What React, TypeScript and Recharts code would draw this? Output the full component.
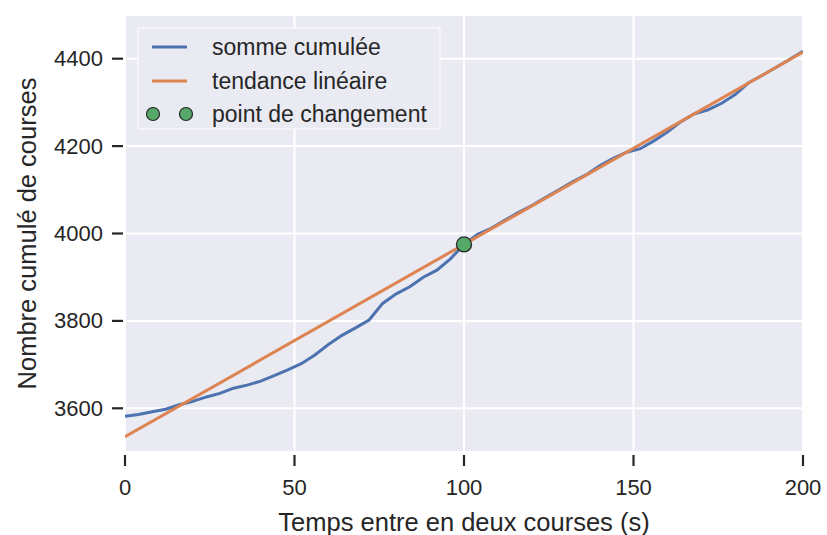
import React from 'react';
import {
  ComposedChart,
  Line,
  Scatter,
  XAxis,
  YAxis,
  CartesianGrid,
  Legend,
} from 'recharts';

// temps (s) et nombre cumulé de courses
const timeS = [
  0, 4, 8, 12, 16, 20, 24, 28, 32, 36, 40, 44, 48, 52, 56, 60, 64, 68, 72, 76,
  80, 84, 88, 92, 96, 100, 104, 108, 112, 116, 120, 124, 128, 132, 136, 140,
  144, 148, 152, 156, 160, 164, 168, 172, 176, 180, 184, 188, 192, 196, 200,
];
const cumulativeCount = [
  3582, 3586, 3592, 3598, 3608, 3616, 3626, 3634, 3646, 3653, 3662, 3675, 3688,
  3702, 3722, 3746, 3767, 3784, 3802, 3840, 3862, 3878, 3900, 3916, 3942, 3975,
  3998, 4012, 4030, 4048, 4064, 4082, 4100, 4118, 4134, 4155, 4172, 4186, 4194,
  4212, 4232, 4256, 4274, 4283, 4298, 4318, 4345, 4362, 4380, 4398, 4417,
];

// tendance linéaire (extrémités)
const trendTime = [0, 200];
const trendCount = [3535, 4415];

// point de changement
const changeTime = [100];
const changeCount = [3975];

const xTicks = [0, 50, 100, 150, 200];
const yTicks = [3600, 3800, 4000, 4200, 4400];

const seriesNames = ['somme cumulée', 'tendance linéaire', 'point de changement'];

const BLUE = '#4C72B0';
const ORANGE = '#DD8452';
const GREEN = '#55A868';
const TEXT = '#262626';
const FONT = '"Liberation Sans", Arial, sans-serif';

const cumData = timeS.map((x, i) => ({ x, y: cumulativeCount[i] }));
const trendData = trendTime.map((x, i) => ({ x, y: trendCount[i] }));
const changeData = changeTime.map((x, i) => ({ x, y: changeCount[i] }));

const PLOT_LEFT = 125;
const PLOT_BOTTOM = 452;

const YTick = (props: any) => {
  const { y, payload } = props;
  return (
    <g>
      <line x1={PLOT_LEFT - 13} x2={PLOT_LEFT - 2} y1={y} y2={y} stroke={TEXT} strokeWidth={2.2} />
      <text x={PLOT_LEFT - 22} y={y} textAnchor="end" dominantBaseline="central"
        fill={TEXT} fontSize={22} fontFamily={FONT}>
        {payload.value}
      </text>
    </g>
  );
};

const XTick = (props: any) => {
  const { x, payload } = props;
  return (
    <g>
      <line x1={x} x2={x} y1={PLOT_BOTTOM + 3} y2={PLOT_BOTTOM + 14} stroke={TEXT} strokeWidth={2.2} />
      <text x={x} y={PLOT_BOTTOM + 35} textAnchor="middle" dominantBaseline="central"
        fill={TEXT} fontSize={22} fontFamily={FONT}>
        {payload.value}
      </text>
    </g>
  );
};

const LegendBox = () => {
  const rows = [20, 54, 87];
  return (
    <svg width={304} height={103} style={{ display: 'block' }}>
      <rect x={1} y={1} width={302} height={101} rx={2} fill="#EAEAF2" stroke="#F8F8FB" strokeWidth={1.5} />
      <line x1={15} x2={50} y1={rows[0]} y2={rows[0]} stroke={BLUE} strokeWidth={3} />
      <line x1={15} x2={50} y1={rows[1]} y2={rows[1]} stroke={ORANGE} strokeWidth={3} />
      <circle cx={16} cy={rows[2]} r={6.5} fill={GREEN} stroke={TEXT} strokeWidth={1.2} />
      <circle cx={49} cy={rows[2]} r={6.5} fill={GREEN} stroke={TEXT} strokeWidth={1.2} />
      {seriesNames.map((name, i) => (
        <text key={name} x={75} y={rows[i]} dominantBaseline="central"
          fill={TEXT} fontSize={23} fontFamily={FONT}>
          {name}
        </text>
      ))}
    </svg>
  );
};

const App: React.FC = () => {
  return (
    <div style={{ position: 'absolute', left: 0, top: 0, width: 827, height: 535, background: '#fff' }}>
      <ComposedChart width={827} height={535} margin={{ top: 15, right: 24, bottom: 0, left: 0 }}>
        <CartesianGrid fill="#EAEAF2" fillOpacity={1} stroke="#ffffff" strokeWidth={2} />
        <XAxis
          dataKey="x"
          type="number"
          domain={[0, 200]}
          ticks={xTicks}
          height={83}
          axisLine={false}
          tickLine={false}
          tick={<XTick />}
          allowDataOverflow
          label={{
            value: 'Temps entre en deux courses (s)',
            position: 'insideBottom',
            offset: 4,
            style: { fill: TEXT, fontSize: 25.5, fontFamily: FONT },
          }}
        />
        <YAxis
          type="number"
          domain={[3500, 4500]}
          ticks={yTicks}
          width={125}
          axisLine={false}
          tickLine={false}
          tick={<YTick />}
          allowDataOverflow
          label={{
            value: 'Nombre cumulé de courses',
            angle: -90,
            position: 'insideLeft',
            offset: 27,
            style: { fill: TEXT, fontSize: 25.5, fontFamily: FONT, textAnchor: 'middle' },
          }}
        />
        <Legend
          layout="horizontal"
          verticalAlign="middle"
          align="center"
          wrapperStyle={{ position: 'absolute', left: 137, top: 27, width: 304, height: 103 }}
          content={<LegendBox />}
        />
        <Line
          data={cumData}
          dataKey="y"
          name={seriesNames[0]}
          type="linear"
          stroke={BLUE}
          strokeWidth={3}
          dot={false}
          isAnimationActive={false}
        />
        <Line
          data={trendData}
          dataKey="y"
          name={seriesNames[1]}
          type="linear"
          stroke={ORANGE}
          strokeWidth={3}
          dot={false}
          isAnimationActive={false}
        />
        <Scatter
          data={changeData}
          dataKey="y"
          name={seriesNames[2]}
          fill={GREEN}
          isAnimationActive={false}
          shape={(p: any) => (
            <circle cx={p.cx} cy={p.cy} r={7.5} fill={GREEN} stroke={TEXT} strokeWidth={1.3} />
          )}
        />
      </ComposedChart>
    </div>
  );
};

export default App;
